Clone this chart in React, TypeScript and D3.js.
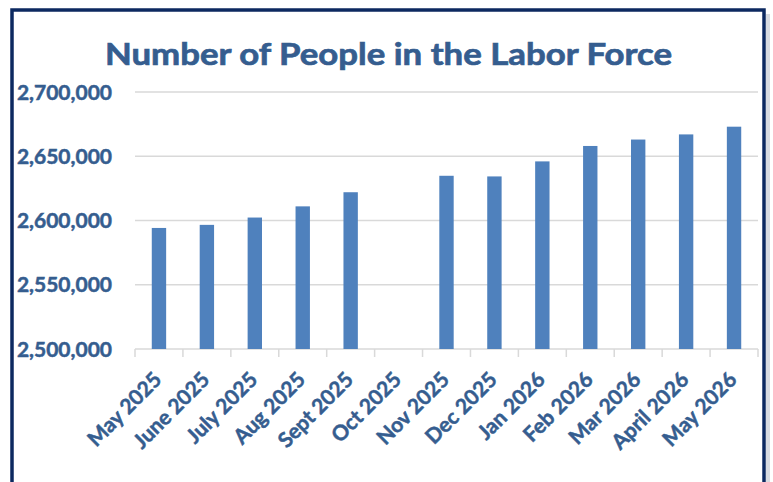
import React from 'react';
import * as d3 from 'd3';

const width = 773;
const height = 482;
const margin = { top: 92, right: 15, bottom: 133, left: 135 };
const textColor = '#355d8f';
const barColor = '#4f81bd';
const gridColor = '#d9d9d9';
const frameColor = '#0c2960';

// month labels and labor force counts (Oct 2025 has no value)
const months = [
  'May 2025', 'June 2025', 'July 2025', 'Aug 2025', 'Sept 2025', 'Oct 2025',
  'Nov 2025', 'Dec 2025', 'Jan 2026', 'Feb 2026', 'Mar 2026', 'April 2026', 'May 2026',
];
const laborForce: (number | null)[] = [
  2594200, 2596600, 2602300, 2611000, 2622000, null,
  2634800, 2634300, 2646000, 2658000, 2663000, 2667000, 2673000,
];
const yTicks = [2500000, 2550000, 2600000, 2650000, 2700000];

export default function App() {
  const xScale = d3
    .scaleBand<string>()
    .domain(months)
    .range([margin.left, width - margin.right])
    .padding(0);
  const yScale = d3
    .scaleLinear()
    .domain([2500000, 2700000])
    .range([height - margin.bottom, margin.top]);

  const step = xScale.step();
  const barW = step * 0.3;
  const y0 = yScale(2500000);
  const fmt = d3.format(',');
  const font = 'Lato, "Open Sans", sans-serif';

  // tick positions at every band boundary
  const boundaries = months.map((m) => xScale(m) as number).concat([width - margin.right]);

  return (
    <div style={{ position: 'absolute', left: 0, top: 0 }}>
      <svg width={width} height={height} style={{ display: 'block', background: '#fff' }}>
        {/* frame with soft shadow on the right */}
        <rect x={766} y={14} width={4} height={480} fill="#c8ccd4" opacity={0.7} />
        <rect x={12} y={10} width={752} height={490} fill="#fff" stroke={frameColor} strokeWidth={3.5} />

        <text
          x={388.5}
          y={65}
          textAnchor="middle"
          fontFamily={font}
          fontWeight="bold"
          fontSize={31}
          fill={textColor}
          stroke={textColor}
          strokeWidth={0.7}
          textLength={567}
          lengthAdjust="spacingAndGlyphs"
        >
          Number of People in the Labor Force
        </text>

        {/* gridlines + y labels */}
        {yTicks.map((t) => (
          <g key={t}>
            <line
              x1={margin.left}
              x2={width - margin.right}
              y1={yScale(t)}
              y2={yScale(t)}
              stroke={gridColor}
              strokeWidth={1.5}
            />
            <text
              x={112}
              y={yScale(t)}
              dy="0.36em"
              textAnchor="end"
              fontFamily={font}
              fontWeight="bold"
              fontSize={21}
              fill={textColor}
              stroke={textColor}
              strokeWidth={0.5}
            >
              {fmt(t)}
            </text>
          </g>
        ))}

        {/* bars */}
        {months.map((m, i) => {
          const v = laborForce[i];
          if (v == null) return null;
          const cx = (xScale(m) as number) + step / 2;
          return (
            <rect key={m} x={cx - barW / 2} y={yScale(v)} width={barW} height={y0 - yScale(v)} fill={barColor} />
          );
        })}

        {/* x axis ticks */}
        {boundaries.map((bx, i) => (
          <line key={i} x1={bx} x2={bx} y1={y0} y2={y0 + 8} stroke={gridColor} strokeWidth={1.5} />
        ))}

        {/* rotated month labels */}
        {months.map((m) => {
          const cx = (xScale(m) as number) + step / 2;
          return (
            <text
              key={m}
              transform={`translate(${cx + 4}, ${y0 + 32}) rotate(-45)`}
              textAnchor="end"
              fontFamily={font}
              fontWeight="bold"
              fontSize={21}
              fill={textColor}
              stroke={textColor}
              strokeWidth={0.5}
            >
              {m}
            </text>
          );
        })}
      </svg>
    </div>
  );
}
